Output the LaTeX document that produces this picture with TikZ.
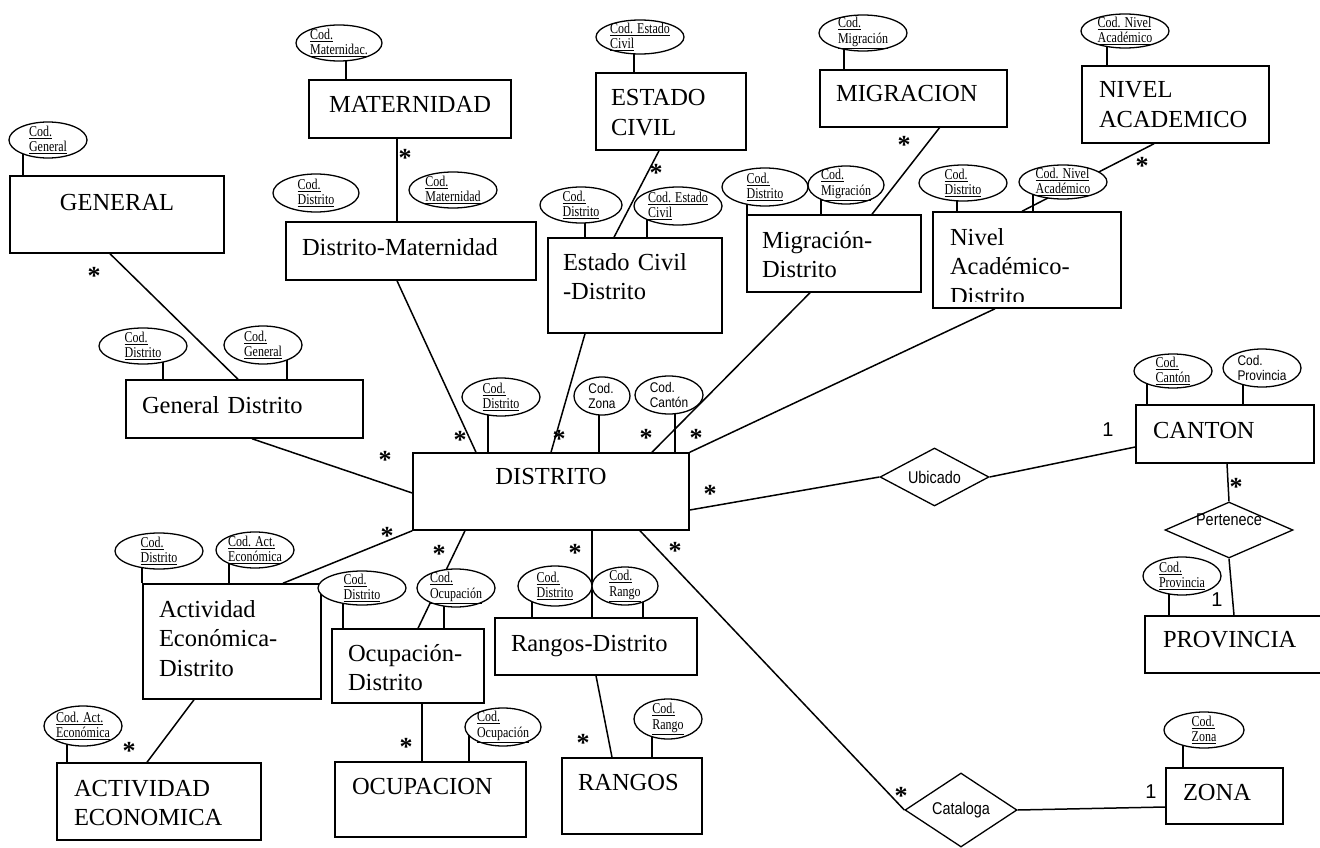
\documentclass[tikz,border=0pt]{standalone}
\usepackage{fontspec}
\setmainfont{Liberation Serif}
\setsansfont{Liberation Sans}
\newfontfamily\narrowsans[FakeStretch=0.85]{Liberation Sans}
\newfontfamily\narrowserif[FakeStretch=0.8]{Liberation Serif}
\usetikzlibrary{shapes.geometric}
\usetikzlibrary{backgrounds}
\tikzset{ent/.style={draw, line width=1.5pt, fill=white, rectangle, inner ysep=0pt, text height=20pt, font=\fontsize{24.5}{29.5}\selectfont}}
\tikzset{attr/.style={draw, ellipse, line width=1.3pt, fill=white, inner sep=-3pt, align=left, font=\narrowserif\fontsize{15}{15.5}\selectfont}}
\tikzset{nattr/.style={attr, font=\narrowsans\fontsize{14}{15}\selectfont}}
\tikzset{rel/.style={draw, diamond, line width=1.3pt, fill=white, inner sep=-4pt, font=\narrowsans\fontsize{17}{17}\selectfont}}
\tikzset{mult/.style={font=\bfseries\fontsize{26}{26}\selectfont, inner sep=0pt, yshift=-3.4pt}}
\tikzset{card/.style={font=\sffamily\fontsize{20}{20}\selectfont, inner sep=0pt}}
\tikzset{conn/.style={line width=1.5pt}}
\tikzset{attrline/.style={line width=1.3pt}}
\newcommand{\keyattr}[1]{\underline{#1}}

\begin{document}
\begin{tikzpicture}[x=1pt,y=-1pt]
  \useasboundingbox (0,0) rectangle (1320,848);

  % entities
  \node[ent, minimum width=214pt, minimum height=77pt, inner xsep=10pt, text width=194pt, align=center, text depth=29pt] (general) at (117,214.5) {GENERAL};
  \node[ent, minimum width=202pt, minimum height=58pt, inner xsep=10pt, text width=182pt, align=center, text depth=12pt] (maternidad) at (410,109) {MATERNIDAD};
  \node[ent, minimum width=250pt, minimum height=58pt, inner xsep=16pt, text width=218pt, align=left, text depth=12pt] (distmat) at (411,251) {Distrito-Maternidad};
  \node[ent, minimum width=150pt, minimum height=77pt, inner xsep=15pt, text width=120pt, align=left, text depth=31pt] (estciv) at (671,111.5) {ESTADO\\CIVIL};
  \node[ent, minimum width=174pt, minimum height=95pt, inner xsep=15pt, text width=144pt, align=left, text depth=51pt] (estcivdis) at (635,285.5) {Estado Civil\\-Distrito};
  \node[ent, minimum width=187pt, minimum height=57pt, inner xsep=16pt, text width=155pt, align=left, text depth=13pt] (migracion) at (913.5,98.5) {MIGRACION};
  \node[ent, minimum width=174pt, minimum height=77pt, inner xsep=15pt, text width=144pt, align=left, text depth=31pt] (migdis) at (834,253.5) {Migración-\\Distrito};
  \node[ent, minimum width=187pt, minimum height=77pt, inner xsep=17pt, text width=153pt, align=left, text depth=33pt] (nivel) at (1175.5,104.5) {NIVEL\\ACADEMICO};
  \node[ent, minimum width=188pt, minimum height=96pt, inner xsep=17pt, text width=154pt, align=left, text depth=50pt] (nivdis) at (1027,260) {Nivel\\Académico-\\Distrito};
  \node[ent, minimum width=237pt, minimum height=58pt, inner xsep=16pt, text width=205pt, align=left, text depth=12pt] (gendis) at (244.5,409) {General Distrito};
  \node[ent, minimum width=276pt, minimum height=77pt, inner xsep=10pt, text width=256pt, align=center, text depth=35pt] (distrito) at (551,491.5) {DISTRITO};
  \node[ent, minimum width=178pt, minimum height=58pt, inner xsep=17pt, text width=144pt, align=left, text depth=12pt] (canton) at (1225,434) {CANTON};
  \node[ent, minimum width=185pt, minimum height=57pt, inner xsep=18pt, text width=149pt, align=left, text depth=15pt] (provincia) at (1237.5,644.5) {PROVINCIA};
  \node[ent, minimum width=117pt, minimum height=56pt, inner xsep=17pt, text width=83pt, align=left, text depth=12pt] (zona) at (1224.5,796) {ZONA};
  \node[ent, minimum width=178pt, minimum height=115pt, inner xsep=16pt, text width=146pt, align=left, text depth=69pt] (actdis) at (232,641.5) {Actividad\\Económica-\\Distrito};
  \node[ent, minimum width=204pt, minimum height=77pt, inner xsep=17pt, text width=170pt, align=left, text depth=31pt] (actividad) at (159,801.5) {ACTIVIDAD\\ECONOMICA};
  \node[ent, minimum width=152pt, minimum height=74pt, inner xsep=16pt, text width=120pt, align=left, text depth=30pt] (ocudis) at (408,666) {Ocupación-\\Distrito};
  \node[ent, minimum width=191pt, minimum height=75pt, inner xsep=17pt, text width=157pt, align=left, text depth=31pt] (ocupacion) at (430.5,799.5) {OCUPACION};
  \node[ent, minimum width=202pt, minimum height=57pt, inner xsep=16pt, text width=170pt, align=left, text depth=11pt] (randis) at (596,646.5) {Rangos-Distrito};
  \node[ent, minimum width=140pt, minimum height=76pt, inner xsep=16pt, text width=108pt, align=left, text depth=32pt] (rangos) at (632,796) {RANGOS};
  % third line of nivdis is cut by the box
  \fill[white] ([shift={(2,-7)}]nivdis.south west) rectangle ([shift={(-2,-1.5)}]nivdis.south east);

  % relationships
  \node[rel, minimum width=109pt, minimum height=58pt, aspect=1.88] (ubicado) at (934.5,477) {Ubicado};
  \node[rel, minimum width=128pt, minimum height=56pt, aspect=2.29, text height=9pt, text depth=19pt] (pertenece) at (1229,530) {Pertenece};
  \node[rel, minimum width=112pt, minimum height=74pt, aspect=1.51] (cataloga) at (961,810) {Cataloga};

  % attributes
  \node[attr, minimum width=78pt, minimum height=36pt] (codgen) at (48,140) {\keyattr{Cod.}\\\keyattr{General}};
  \node[attr, minimum width=86pt, minimum height=36pt] (codmat) at (339,43) {\keyattr{Cod.}\\\keyattr{Maternidac.}};
  \node[attr, minimum width=88pt, minimum height=34pt] (codestciv) at (640,37) {\keyattr{Cod. Estado}\\\keyattr{Civil}};
  \node[attr, minimum width=88pt, minimum height=36pt] (codmig) at (863,33) {\keyattr{Cod.}\\\keyattr{Migración}};
  \node[attr, minimum width=88pt, minimum height=34pt] (codniv) at (1125,31) {\keyattr{Cod. Nivel}\\\keyattr{Académico}};
  \node[attr, minimum width=86pt, minimum height=38pt] (dmdist) at (316,193) {\keyattr{Cod.}\\\keyattr{Distrito}};
  \node[attr, minimum width=88pt, minimum height=36pt] (dmmat) at (453,190) {\keyattr{Cod.}\\\keyattr{Maternidad}};
  \node[attr, minimum width=82pt, minimum height=36pt] (ecdist) at (581,205) {\keyattr{Cod.}\\\keyattr{Distrito}};
  \node[attr, minimum width=88pt, minimum height=38pt] (ecciv) at (678,206) {\keyattr{Cod. Estado}\\\keyattr{Civil}};
  \node[attr, minimum width=86pt, minimum height=38pt] (migdist) at (765,187) {\keyattr{Cod.}\\\keyattr{Distrito}};
  \node[attr, minimum width=76pt, minimum height=38pt] (migmig) at (846,185) {\keyattr{Cod.}\\\keyattr{Migración}};
  \node[attr, minimum width=88pt, minimum height=36pt] (nivdist) at (963,183) {\keyattr{Cod.}\\\keyattr{Distrito}};
  \node[attr, minimum width=88pt, minimum height=34pt] (nivniv) at (1063,182) {\keyattr{Cod. Nivel}\\\keyattr{Académico}};
  \node[attr, minimum width=88pt, minimum height=36pt] (gddist) at (143,346) {\keyattr{Cod.}\\\keyattr{Distrito}};
  \node[attr, minimum width=78pt, minimum height=38pt] (gdgen) at (263,345) {\keyattr{Cod.}\\\keyattr{General}};
  \node[attr, minimum width=78pt, minimum height=38pt] (disdist) at (501,397) {\keyattr{Cod.}\\\keyattr{Distrito}};
  \node[nattr, minimum width=56pt, minimum height=38pt] (diszona) at (602,396) {Cod.\\Zona};
  \node[nattr, minimum width=68pt, minimum height=38pt] (discan) at (669,395) {Cod.\\Cantón};
  \node[attr, minimum width=78pt, minimum height=34pt] (cancan) at (1173,371) {\keyattr{Cod.}\\\keyattr{Cantón}};
  \node[nattr, minimum width=78pt, minimum height=38pt] (canprov) at (1262,368) {Cod.\\Provincia};
  \node[attr, minimum width=78pt, minimum height=38pt] (provprov) at (1182,576) {\keyattr{Cod.}\\\keyattr{Provincia}};
  \node[attr, minimum width=80pt, minimum height=36pt] (zonzon) at (1204,730) {\keyattr{Cod.}\\\keyattr{Zona}};
  \node[attr, minimum width=88pt, minimum height=36pt] (aeddist) at (159,551) {\keyattr{Cod.}\\\keyattr{Distrito}};
  \node[attr, minimum width=78pt, minimum height=36pt] (aedact) at (255,550) {\keyattr{Cod. Act.}\\\keyattr{Económica}};
  \node[attr, minimum width=78pt, minimum height=40pt] (aeact) at (83,726) {\keyattr{Cod. Act.}\\\keyattr{Económica}};
  \node[attr, minimum width=88pt, minimum height=34pt] (oddist) at (362,588) {\keyattr{Cod.}\\\keyattr{Distrito}};
  \node[attr, minimum width=78pt, minimum height=38pt] (odocu) at (456,588) {\keyattr{Cod.}\\\keyattr{Ocupación}};
  \node[attr, minimum width=76pt, minimum height=38pt] (ocuocu) at (503,727) {\keyattr{Cod.}\\\keyattr{Ocupación}};
  \node[attr, minimum width=74pt, minimum height=40pt] (rddist) at (555,586) {\keyattr{Cod.}\\\keyattr{Distrito}};
  \node[attr, minimum width=66pt, minimum height=38pt] (rdran) at (625,586) {\keyattr{Cod.}\\\keyattr{Rango}};
  \node[attr, minimum width=68pt, minimum height=40pt] (ranran) at (668,719) {\keyattr{Cod.}\\\keyattr{Rango}};

  % multiplicities
  \node[mult] (mGen) at (94,273) {*};
  \node[mult] (mMat) at (405,155) {*};
  \node[mult] (mEstCiv) at (656,170) {*};
  \node[mult] (mMig) at (904,142) {*};
  \node[mult] (mNiv) at (1142,163) {*};
  \node[mult] (mGenDis) at (385,457) {*};
  \node[mult] (mDistMat) at (460,437) {*};
  \node[mult] (mEstCivDis) at (559,436) {*};
  \node[mult] (mMigDis) at (646,435) {*};
  \node[mult] (mNivDis) at (696,435) {*};
  \node[mult] (mUbic) at (710,491) {*};
  \node[mult] (mActDis) at (387,533) {*};
  \node[mult] (mOcuDis) at (439,551) {*};
  \node[mult] (mRanDis) at (575,550) {*};
  \node[mult] (mCatDis) at (675,548) {*};
  \node[mult] (mAct) at (129,748) {*};
  \node[mult] (mOcu) at (406,744) {*};
  \node[mult] (mRan) at (583,740) {*};
  \node[mult] (mCanton) at (1236,484) {*};
  \node[mult] (mCat) at (901,793) {*};
  \node[card] (cCanton) at (1108,430) {1};
  \node[card] (cProv) at (1217,600) {1};
  \node[card] (cZona) at (1151,792) {1};

  \begin{scope}[on background layer]
    % relations between entities
    \draw[conn] ([xshift=-7pt]general.south) -- ([xshift=-6.5pt]gendis.north);
    \draw[conn] ([xshift=-13pt]maternidad.south) -- ([xshift=-13pt]maternidad.south |- distmat.north);
    \draw[conn] ([xshift=-12pt]estciv.south) -- ([xshift=-21pt]estcivdis.north);
    \draw[conn] ([xshift=26pt]migracion.south) -- ([xshift=38pt]migdis.north);
    \draw[conn] ([xshift=-21.5pt]nivel.south) -- ([xshift=-5pt]nivdis.north);
    \draw[conn] ([xshift=7.5pt]gendis.south) -- ([yshift=-1.5pt]distrito.west);
    \draw[conn] ([xshift=-14pt]distmat.south) -- ([xshift=-75pt]distrito.north);
    \draw[conn] ([xshift=-50pt]estcivdis.south) -- (distrito.north);
    \draw[conn] ([xshift=-24pt]migdis.south) -- ([xshift=101pt]distrito.north);
    \draw[conn] ([xshift=-32pt]nivdis.south) -- (distrito.north east);
    \draw[conn] ([yshift=-18.5pt]distrito.east) -- (ubicado.west);
    \draw[conn] (ubicado.east) -- ([yshift=-13pt]canton.west);
    \draw[conn] ([xshift=2pt]canton.south) -- (pertenece.north);
    \draw[conn] (pertenece.south) -- ([xshift=-3.5pt]provincia.north);
    \draw[conn] ([xshift=89pt]distrito.south) -- (cataloga.west);
    \draw[conn] (cataloga.east) -- ([yshift=-11pt]zona.west);
    \draw[conn] (distrito.south west) -- ([xshift=51pt]actdis.north);
    \draw[conn] ([xshift=-86pt]distrito.south) -- ([xshift=10pt]ocudis.north);
    \draw[conn] ([xshift=41pt]distrito.south) -- ([xshift=41pt]distrito.south |- randis.north);
    \draw[conn] ([xshift=-38pt]actdis.south) -- ([xshift=-12pt]actividad.north);
    \draw[conn] ([xshift=14pt]ocudis.south) -- ([xshift=-8.5pt]ocupacion.north);
    \draw[conn] (randis.south) -- ([xshift=-20pt]rangos.north);
    % attributes to entities
    \draw[attrline] ([xshift=-25pt]codgen.center) -- ([xshift=-25pt]codgen.center |- general.north);
    \draw[attrline] ([xshift=7pt]codmat.center) -- ([xshift=7pt]codmat.center |- maternidad.north);
    \draw[attrline] ([xshift=-6pt]codestciv.center) -- ([xshift=-6pt]codestciv.center |- estciv.north);
    \draw[attrline] ([xshift=-19pt]codmig.center) -- ([xshift=-19pt]codmig.center |- migracion.north);
    \draw[attrline] ([xshift=-18pt]codniv.center) -- ([xshift=-18pt]codniv.center |- nivel.north);
    \draw[attrline] ([xshift=4pt]ecdist.center) -- ([xshift=4pt]ecdist.center |- estcivdis.north);
    \draw[attrline] ([xshift=-31pt]ecciv.center) -- ([xshift=-31pt]ecciv.center |- estcivdis.north);
    \draw[attrline] ([xshift=-18pt]migdist.center) -- ([xshift=-18pt]migdist.center |- migdis.north);
    \draw[attrline] ([xshift=-25pt]migmig.center) -- ([xshift=-25pt]migmig.center |- migdis.north);
    \draw[attrline] ([xshift=-6pt]nivdist.center) -- ([xshift=-6pt]nivdist.center |- nivdis.north);
    \draw[attrline] ([xshift=-30pt]nivniv.center) -- ([xshift=-30pt]nivniv.center |- nivdis.north);
    \draw[attrline] ([xshift=20pt]gddist.center) -- ([xshift=20pt]gddist.center |- gendis.north);
    \draw[attrline] ([xshift=24pt]gdgen.center) -- ([xshift=24pt]gdgen.center |- gendis.north);
    \draw[attrline] ([xshift=-13pt]disdist.center) -- ([xshift=-13pt]disdist.center |- distrito.north);
    \draw[attrline] ([xshift=-3pt]diszona.center) -- ([xshift=-3pt]diszona.center |- distrito.north);
    \draw[attrline] ([xshift=6pt]discan.center) -- ([xshift=6pt]discan.center |- distrito.north);
    \draw[attrline] ([xshift=-26pt]cancan.center) -- ([xshift=-26pt]cancan.center |- canton.north);
    \draw[attrline] ([xshift=-19pt]canprov.center) -- ([xshift=-19pt]canprov.center |- canton.north);
    \draw[attrline] ([xshift=-13pt]provprov.center) -- ([xshift=-13pt]provprov.center |- provincia.north);
    \draw[attrline] ([xshift=-21pt]zonzon.center) -- ([xshift=-21pt]zonzon.center |- zona.north);
    \draw[attrline] ([xshift=-17pt]aeddist.center) -- ([xshift=-17pt]aeddist.center |- actdis.north);
    \draw[attrline] ([xshift=-26pt]aedact.center) -- ([xshift=-26pt]aedact.center |- actdis.north);
    \draw[attrline] ([xshift=-16pt]aeact.center) -- ([xshift=-16pt]aeact.center |- actividad.north);
    \draw[attrline] ([xshift=-19pt]oddist.center) -- ([xshift=-19pt]oddist.center |- ocudis.north);
    \draw[attrline] ([xshift=-12pt]odocu.center) -- ([xshift=-12pt]odocu.center |- ocudis.north);
    \draw[attrline] ([xshift=-34pt]ocuocu.center) -- ([xshift=-34pt]ocuocu.center |- ocupacion.north);
    \draw[attrline] ([xshift=-23pt]rddist.center) -- ([xshift=-23pt]rddist.center |- randis.north);
    \draw[attrline] ([xshift=18pt]rdran.center) -- ([xshift=18pt]rdran.center |- randis.north);
    \draw[attrline] ([xshift=-16pt]ranran.center) -- ([xshift=-16pt]ranran.center |- rangos.north);
  \end{scope}
\end{tikzpicture}
\end{document}
